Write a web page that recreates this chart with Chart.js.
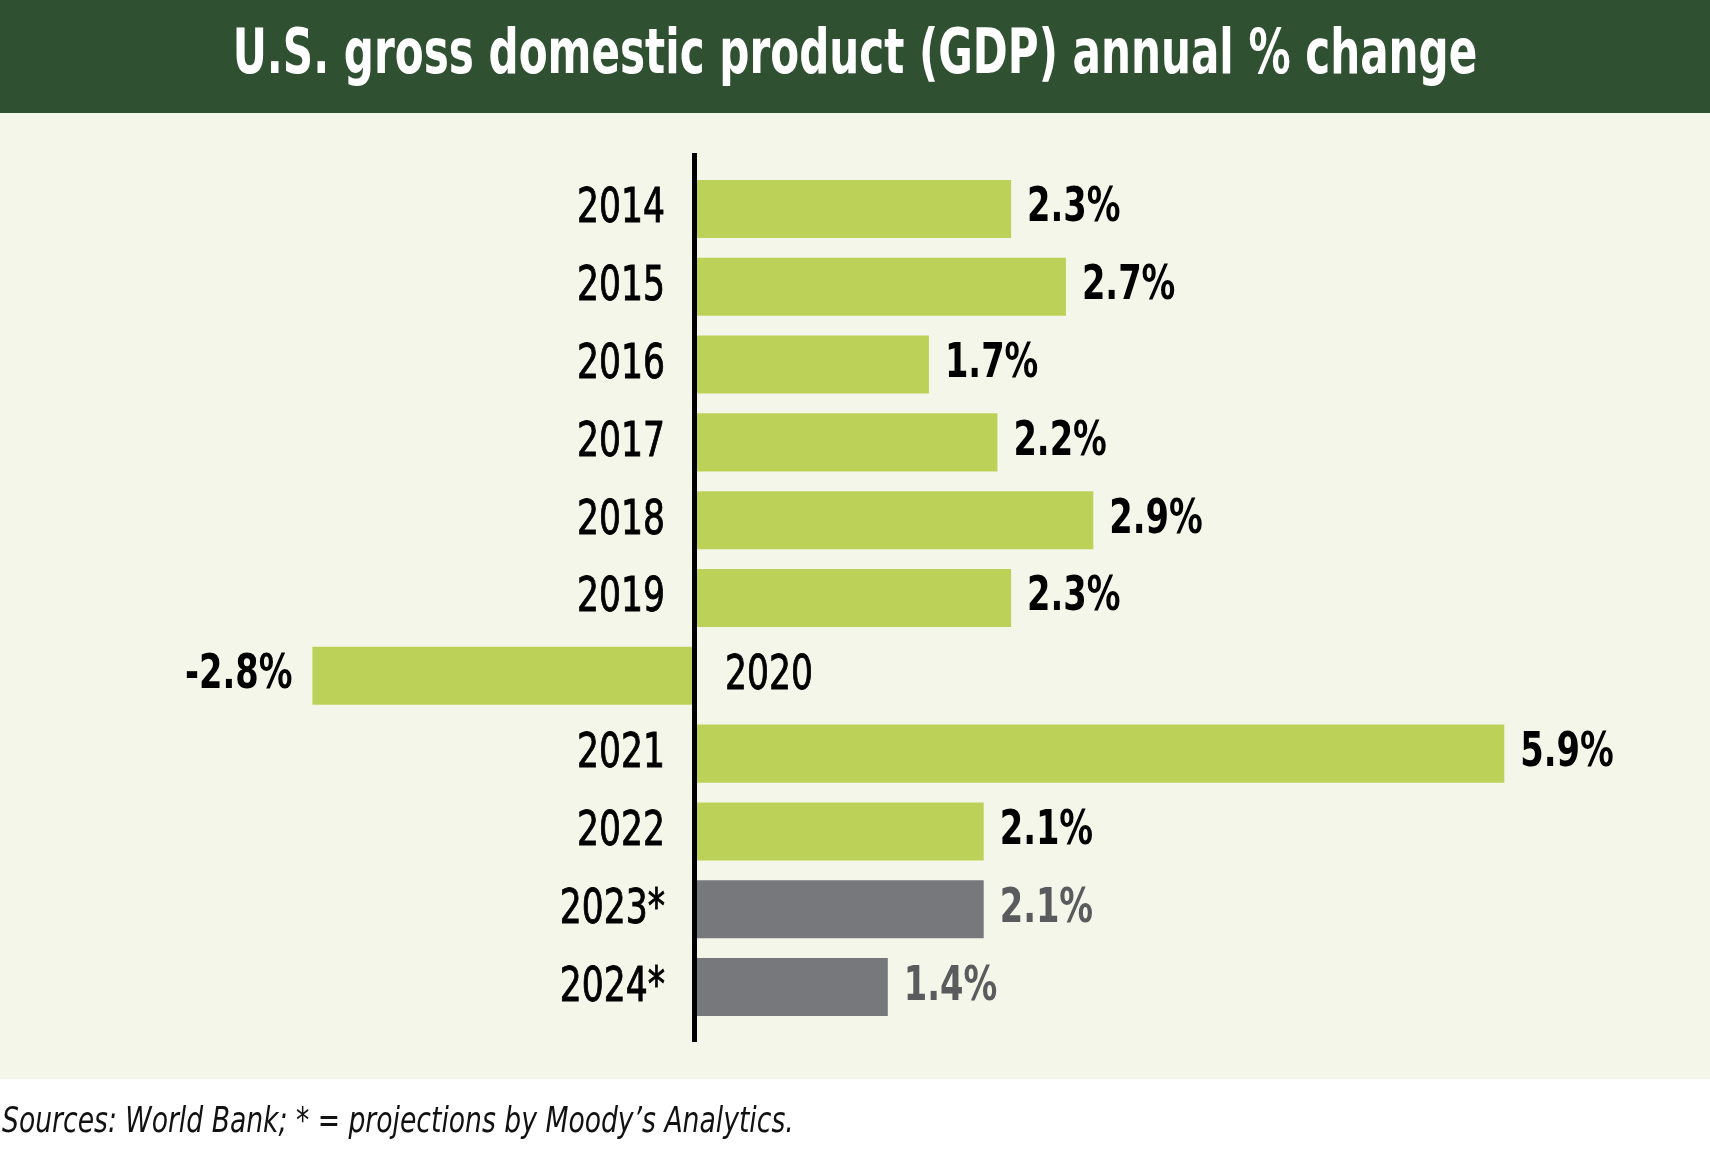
<!DOCTYPE html>
<html>
<head>
<meta charset="utf-8">
<script src="https://cdn.jsdelivr.net/npm/chart.js@4"></script>
<style>
  html, body { margin: 0; padding: 0; background: #ffffff; }
  #wrap { position: relative; width: 1710px; height: 1164px; }
</style>
</head>
<body>
<div id="wrap"><canvas id="gdpChart"></canvas></div>
<script>
const years = ["2014", "2015", "2016", "2017", "2018", "2019", "2020", "2021", "2022", "2023*", "2024*"];
const gdpChange = [2.3, 2.7, 1.7, 2.2, 2.9, 2.3, -2.8, 5.9, 2.1, 2.1, 1.4];
const isProjection = [false, false, false, false, false, false, false, false, false, true, true];
const titleText = "U.S. gross domestic product (GDP) annual % change";
const sourceText = "Sources: World Bank; * = projections by Moody\u2019s Analytics.";

const GREEN = "#bcd157";
const GREY = "#77787b";
const NARROW = "'DejaVu Sans Condensed', 'DejaVu Sans', sans-serif";

// no condensed face like the original, so squeeze the text sideways
function squeezeText(ctx, text, x, y, sx, align, bolden) {
  ctx.save();
  ctx.translate(x, y);
  ctx.scale(sx, 1);
  ctx.textAlign = align;
  ctx.fillText(text, 0, 0);
  if (bolden) {
    ctx.lineWidth = bolden;
    ctx.strokeStyle = ctx.fillStyle;
    ctx.strokeText(text, 0, 0);
  }
  ctx.restore();
}

// page furniture: header band, cream panel, title, sources line
const frame = {
  id: "frame",
  beforeDraw(chart) {
    const ctx = chart.ctx;
    ctx.save();
    ctx.fillStyle = "#2f5132";
    ctx.fillRect(0, 0, chart.width, 113);
    ctx.fillStyle = "#f4f6e9";
    ctx.fillRect(0, 113, chart.width, 966);
    ctx.restore();
  },
  afterDraw(chart) {
    const ctx = chart.ctx;
    ctx.save();
    ctx.textBaseline = "alphabetic";
    ctx.fillStyle = "#ffffff";
    ctx.font = "bold 62px " + NARROW;
    squeezeText(ctx, titleText, chart.width / 2, 73, 0.755, "center", 0);
    ctx.fillStyle = "#111111";
    ctx.font = "italic 36px " + NARROW;
    squeezeText(ctx, sourceText, 2, 1132, 0.822, "left", 0);
    ctx.restore();
  }
};

// zero line plus year and value labels
const barLabels = {
  id: "barLabels",
  afterDatasetsDraw(chart) {
    const ctx = chart.ctx;
    const x = chart.scales.x;
    const area = chart.chartArea;
    const zero = x.getPixelForValue(0);
    ctx.save();
    ctx.strokeStyle = "#000000";
    ctx.lineWidth = 5;
    ctx.beginPath();
    ctx.moveTo(zero - 1.5, area.top - 17);
    ctx.lineTo(zero - 1.5, area.bottom + 16);
    ctx.stroke();

    ctx.textBaseline = "middle";
    chart.getDatasetMeta(0).data.forEach((bar, i) => {
      const v = gdpChange[i];
      const y = bar.y;
      ctx.fillStyle = "#000000";
      ctx.font = "48px " + NARROW;
      if (v >= 0) {
        squeezeText(ctx, years[i], zero - 31, y + 1, 0.8, "right", 0.9);
      } else {
        squeezeText(ctx, years[i], zero + 29, y + 1, 0.8, "left", 0.9);
      }
      ctx.fillStyle = isProjection[i] ? "#5a5b5d" : "#000000";
      ctx.font = "bold 48px " + NARROW;
      const txt = v.toFixed(1) + "%";
      if (v >= 0) {
        squeezeText(ctx, txt, bar.x + 16, y, 0.78, "left", 0);
      } else {
        squeezeText(ctx, txt, bar.x - 20, y, 0.78, "right", 0);
      }
    });
    ctx.restore();
  }
};

new Chart(document.getElementById("gdpChart"), {
  type: "bar",
  data: {
    labels: years,
    datasets: [{
      data: gdpChange,
      backgroundColor: isProjection.map(p => p ? GREY : GREEN),
      borderWidth: 0,
      barPercentage: 0.746,
      categoryPercentage: 1.0
    }]
  },
  options: {
    indexAxis: "y",
    responsive: true,
    maintainAspectRatio: false,
    animation: false,
    layout: { padding: { left: 216.5, right: 123.5, top: 170, bottom: 138 } },
    plugins: { legend: { display: false }, tooltip: { enabled: false } },
    scales: {
      x: { display: false, min: -3.5, max: 6.5 },
      y: { display: false }
    }
  },
  plugins: [frame, barLabels]
});
</script>
</body>
</html>
